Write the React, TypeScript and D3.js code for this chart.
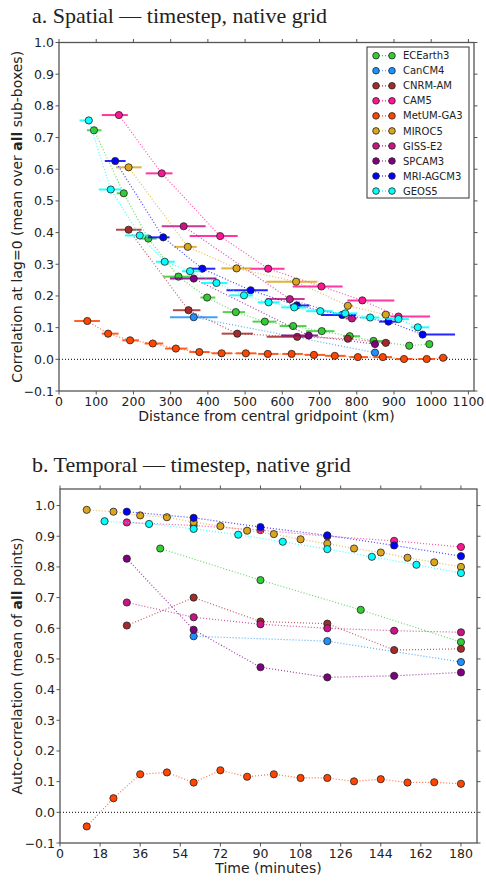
import React from 'react';
import * as d3 from 'd3';

// ---------- models ----------
const models = ["ECEarth3", "CanCM4", "CNRM-AM", "CAM5", "MetUM-GA3", "MIROC5", "GISS-E2", "SPCAM3", "MRI-AGCM3", "GEOS5"];
const colors = ["#32CD32", "#1E90FF", "#A52A2A", "#FF1493", "#FF4500", "#DAA520", "#C71585", "#800080", "#0000FF", "#00FFFF"];

// ---------- panel a: spatial (distance km, correlation, error-bar lo/hi km) ----------
const ecearthDist = [94, 174, 240, 321, 398, 475, 553, 629, 706, 781, 845, 941, 995];
const ecearthCorr = [0.723, 0.524, 0.381, 0.261, 0.195, 0.149, 0.119, 0.105, 0.089, 0.073, 0.058, 0.043, 0.048];
const ecearthLo = [75, 155, 217, 280, 380, 440, 520, 593, 664, 763, 835, 930, 985];
const ecearthHi = [114, 181, 262, 352, 420, 500, 584, 665, 740, 809, 888, 950, 1005];

const cancmDist = [362, 849];
const cancmCorr = [0.133, 0.021];
const cancmLo = [298, 840];
const cancmHi = [426, 858];

const cnrmDist = [187, 348, 479, 640, 776, 878];
const cnrmCorr = [0.409, 0.155, 0.081, 0.071, 0.065, 0.052];
const cnrmLo = [153, 306, 437, 558, 765, 865];
const cnrmHi = [222, 380, 521, 665, 790, 890];

const cam5Dist = [161, 276, 433, 562, 705, 815, 912];
const cam5Corr = [0.771, 0.587, 0.389, 0.286, 0.230, 0.186, 0.135];
const cam5Lo = [115, 233, 351, 512, 628, 775, 890];
const cam5Hi = [185, 305, 480, 606, 762, 901, 997];

const metumDist = [76, 132, 191, 252, 314, 377, 437, 502, 561, 625, 685, 741, 803, 870, 927, 988, 1032];
const metumCorr = [0.121, 0.081, 0.060, 0.050, 0.034, 0.023, 0.019, 0.019, 0.017, 0.017, 0.014, 0.011, 0.007, 0.007, 0.001, 0.001, 0.005];
const metumLo = [41, 115, 170, 230, 285, 350, 410, 475, 535, 600, 660, 715, 780, 845, 905, 965, 1020];
const metumHi = [110, 160, 215, 280, 345, 405, 465, 530, 590, 655, 715, 770, 830, 895, 950, 1010, 1045];

const mirocDist = [187, 346, 477, 637, 776, 878];
const mirocCorr = [0.606, 0.355, 0.287, 0.245, 0.169, 0.141];
const mirocLo = [153, 310, 436, 557, 765, 865];
const mirocHi = [222, 370, 517, 694, 790, 890];

const gissDist = [335, 620, 787];
const gissCorr = [0.420, 0.190, 0.129];
const gissLo = [276, 557, 770];
const gissHi = [394, 660, 800];

const spcamDist = [362, 671, 849];
const spcamCorr = [0.255, 0.075, 0.048];
const spcamLo = [298, 597, 840];
const spcamHi = [423, 696, 858];

const mriDist = [151, 280, 385, 515, 639, 761, 885, 977];
const mriCorr = [0.626, 0.385, 0.286, 0.218, 0.170, 0.140, 0.119, 0.078];
const mriLo = [123, 239, 351, 450, 620, 704, 860, 970];
const mriHi = [179, 297, 420, 561, 673, 798, 910, 1064];

const geosDist = [80, 139, 217, 284, 352, 423, 497, 563, 632, 702, 769, 836, 912, 964];
const geosCorr = [0.754, 0.536, 0.391, 0.308, 0.278, 0.241, 0.202, 0.180, 0.164, 0.152, 0.145, 0.132, 0.127, 0.101];
const geosLo = [55, 107, 177, 260, 330, 382, 458, 534, 597, 664, 735, 810, 880, 945];
const geosHi = [90, 168, 239, 311, 380, 453, 521, 593, 664, 735, 802, 860, 940, 995];

// ---------- panel b: temporal (minutes, auto-correlation) ----------
const ecearthTime = [45, 90, 135, 180];
const ecearthAuto = [0.860, 0.757, 0.660, 0.555];
const cancmTime = [60, 120, 180];
const cancmAuto = [0.574, 0.558, 0.490];
const cnrmTime = [30, 60, 90, 120, 150, 180];
const cnrmAuto = [0.609, 0.700, 0.622, 0.615, 0.529, 0.533];
const cam5Time = [30, 60, 90, 120, 150, 180];
const cam5Auto = [0.945, 0.935, 0.920, 0.900, 0.885, 0.865];
const metumTime = [12, 24, 36, 48, 60, 72, 84, 96, 108, 120, 132, 144, 156, 168, 180];
const metumAuto = [-0.046, 0.046, 0.124, 0.130, 0.097, 0.137, 0.116, 0.124, 0.112, 0.112, 0.101, 0.108, 0.097, 0.098, 0.093];
const mirocTime = [12, 24, 36, 48, 60, 72, 84, 96, 108, 120, 132, 144, 156, 168, 180];
const mirocAuto = [0.986, 0.980, 0.968, 0.962, 0.946, 0.933, 0.918, 0.907, 0.890, 0.876, 0.860, 0.847, 0.830, 0.815, 0.800];
const gissTime = [30, 60, 90, 120, 150, 180];
const gissAuto = [0.684, 0.636, 0.613, 0.600, 0.592, 0.587];
const spcamTime = [30, 60, 90, 120, 150, 180];
const spcamAuto = [0.827, 0.595, 0.473, 0.440, 0.445, 0.456];
const mriTime = [30, 60, 90, 120, 150, 180];
const mriAuto = [0.980, 0.960, 0.930, 0.903, 0.870, 0.835];
const geosTime = [20, 40, 60, 80, 100, 120, 140, 160, 180];
const geosAuto = [0.949, 0.940, 0.924, 0.905, 0.882, 0.858, 0.833, 0.807, 0.780];

// ---------- ticks ----------
const distTicks = [0, 100, 200, 300, 400, 500, 600, 700, 800, 900, 1000, 1100];
const corrTicks = [-0.1, 0.0, 0.1, 0.2, 0.3, 0.4, 0.5, 0.6, 0.7, 0.8, 0.9, 1.0];
const timeTicks = [0, 18, 36, 54, 72, 90, 108, 126, 144, 162, 180];
const autoTicks = [-0.1, 0.0, 0.1, 0.2, 0.3, 0.4, 0.5, 0.6, 0.7, 0.8, 0.9, 1.0];

const spatial = [
  [ecearthDist, ecearthCorr, ecearthLo, ecearthHi],
  [cancmDist, cancmCorr, cancmLo, cancmHi],
  [cnrmDist, cnrmCorr, cnrmLo, cnrmHi],
  [cam5Dist, cam5Corr, cam5Lo, cam5Hi],
  [metumDist, metumCorr, metumLo, metumHi],
  [mirocDist, mirocCorr, mirocLo, mirocHi],
  [gissDist, gissCorr, gissLo, gissHi],
  [spcamDist, spcamCorr, spcamLo, spcamHi],
  [mriDist, mriCorr, mriLo, mriHi],
  [geosDist, geosCorr, geosLo, geosHi],
];
const temporal = [
  [ecearthTime, ecearthAuto], [cancmTime, cancmAuto], [cnrmTime, cnrmAuto], [cam5Time, cam5Auto],
  [metumTime, metumAuto], [mirocTime, mirocAuto], [gissTime, gissAuto], [spcamTime, spcamAuto],
  [mriTime, mriAuto], [geosTime, geosAuto],
];

const SANS = "'DejaVu Sans', sans-serif";
const SERIF = "'Liberation Serif', 'Times New Roman', serif";
const SPINE = "#555";
const TXT = "#222";

function Frame({ x, y, xTicks, yTicks, xFmt, yFmt, xLabel, yLabel }: any) {
  const [x0, x1] = x.range();
  const [y0, y1] = y.range(); // y0 bottom, y1 top
  const tl = 3.5;
  return (
    <g>
      <rect x={x0} y={y1} width={x1 - x0} height={y0 - y1} fill="none" stroke={SPINE} strokeWidth={1.3} />
      {xTicks.map((t: number) => (
        <g key={'x' + t}>
          <line x1={x(t)} x2={x(t)} y1={y0} y2={y0 + tl} stroke={SPINE} strokeWidth={1} />
          <line x1={x(t)} x2={x(t)} y1={y1} y2={y1 - tl} stroke={SPINE} strokeWidth={1} />
          <text x={x(t)} y={y0 + 15} textAnchor="middle" fontSize={12.5} fontFamily={SANS} fill={TXT}>{xFmt(t)}</text>
        </g>
      ))}
      {yTicks.map((t: number) => (
        <g key={'y' + t}>
          <line x1={x0} x2={x0 - tl} y1={y(t)} y2={y(t)} stroke={SPINE} strokeWidth={1} />
          <line x1={x1} x2={x1 + tl} y1={y(t)} y2={y(t)} stroke={SPINE} strokeWidth={1} />
          <text x={x0 - 5} y={y(t)} dy="0.36em" textAnchor="end" fontSize={12.5} fontFamily={SANS} fill={TXT}>{yFmt(t)}</text>
        </g>
      ))}
      <text x={(x0 + x1) / 2} y={y0 + 30} textAnchor="middle" fontSize={14} fontFamily={SANS} fill={TXT}>{xLabel}</text>
      <text transform={`translate(22,${(y0 + y1) / 2}) rotate(-90)`} textAnchor="middle" fontSize={14} fontFamily={SANS} fill={TXT}>{yLabel}</text>
    </g>
  );
}

export default function App() {
  const W = 486, H = 883;
  // panel a
  const xa = d3.scaleLinear().domain([0, 1115]).range([59, 474]);
  const ya = d3.scaleLinear().domain([-0.1, 1.0]).range([391, 42.5]);
  // panel b
  const xb = d3.scaleLinear().domain([0, 187.2]).range([60, 477]);
  const yb = d3.scaleLinear().domain([-0.1, 1.054]).range([843, 489]);
  const fmt1 = d3.format('.1f');
  const fmtI = (v: number) => String(v);

  const lineA = d3.line<[number, number]>().x(d => xa(d[0])).y(d => ya(d[1]));
  const lineB = d3.line<[number, number]>().x(d => xb(d[0])).y(d => yb(d[1]));
  const R = 3.6;

  return (
    <svg width={W} height={H} style={{ position: 'absolute', left: 0, top: 0, background: '#fff' }}>
      <rect width={W} height={H} fill="#fff" />
      {/* titles */}
      <text x={32} y={23} fontSize={22} fontFamily={SERIF} fill="#222">a. Spatial — timestep, native grid</text>
      <text x={32} y={472} fontSize={22} fontFamily={SERIF} fill="#222">b. Temporal — timestep, native grid</text>

      {/* panel a */}
      <line x1={xa.range()[0]} x2={xa.range()[1]} y1={ya(0)} y2={ya(0)} stroke="#000" strokeWidth={1} strokeDasharray="1,2" />
      {spatial.map((s, i) => {
        const [xs, ys, lo, hi] = s as number[][];
        const pts = xs.map((v, k) => [v, ys[k]] as [number, number]);
        return (
          <g key={'a' + i}>
            <path d={lineA(pts) || ''} fill="none" stroke={colors[i]} strokeWidth={1.2} strokeDasharray="1,2" opacity={0.75} />
            {xs.map((v, k) => (
              <line key={'e' + k} x1={xa(lo[k])} x2={xa(hi[k])} y1={ya(ys[k])} y2={ya(ys[k])} stroke={colors[i]} strokeWidth={2} opacity={0.85} />
            ))}
            {xs.map((v, k) => (
              <circle key={'c' + k} cx={xa(v)} cy={ya(ys[k])} r={R} fill={colors[i]} stroke="#222" strokeWidth={0.8} />
            ))}
          </g>
        );
      })}
      <Frame x={xa} y={ya} xTicks={distTicks} yTicks={corrTicks} xFmt={fmtI} yFmt={fmt1}
        xLabel="Distance from central gridpoint (km)"
        yLabel={<>Correlation at lag=0 (mean over <tspan fontWeight="bold">all</tspan> sub-boxes)</>} />

      {/* legend */}
      <g>
        <rect x={367} y={47} width={102} height={151} fill="#fff" stroke="#333" strokeWidth={1} />
        {models.map((m, i) => {
          const yy = 55.7 + i * 15.04;
          return (
            <g key={'l' + i}>
              <line x1={376} x2={392} y1={yy} y2={yy} stroke={colors[i]} strokeWidth={1.2} strokeDasharray="1,2" />
              <circle cx={376} cy={yy} r={3.3} fill={colors[i]} stroke="#222" strokeWidth={0.8} />
              <circle cx={392} cy={yy} r={3.3} fill={colors[i]} stroke="#222" strokeWidth={0.8} />
              <text x={403} y={yy} dy="0.36em" fontSize={10} fontFamily={SANS} fill={TXT}>{m}</text>
            </g>
          );
        })}
      </g>

      {/* panel b */}
      <line x1={xb.range()[0]} x2={xb.range()[1]} y1={yb(0)} y2={yb(0)} stroke="#000" strokeWidth={1} strokeDasharray="1,2" />
      {temporal.map((s, i) => {
        const [ts, vs] = s as number[][];
        const pts = ts.map((t, k) => [t, vs[k]] as [number, number]);
        return (
          <g key={'b' + i}>
            <path d={lineB(pts) || ''} fill="none" stroke={colors[i]} strokeWidth={1.2} strokeDasharray="1,2" opacity={0.75} />
            {ts.map((t, k) => (
              <circle key={'c' + k} cx={xb(t)} cy={yb(vs[k])} r={R} fill={colors[i]} stroke="#222" strokeWidth={0.8} />
            ))}
          </g>
        );
      })}
      <Frame x={xb} y={yb} xTicks={timeTicks} yTicks={autoTicks} xFmt={fmtI} yFmt={fmt1}
        xLabel="Time (minutes)"
        yLabel={<>Auto-correlation (mean of <tspan fontWeight="bold">all</tspan> points)</>} />
    </svg>
  );
}
